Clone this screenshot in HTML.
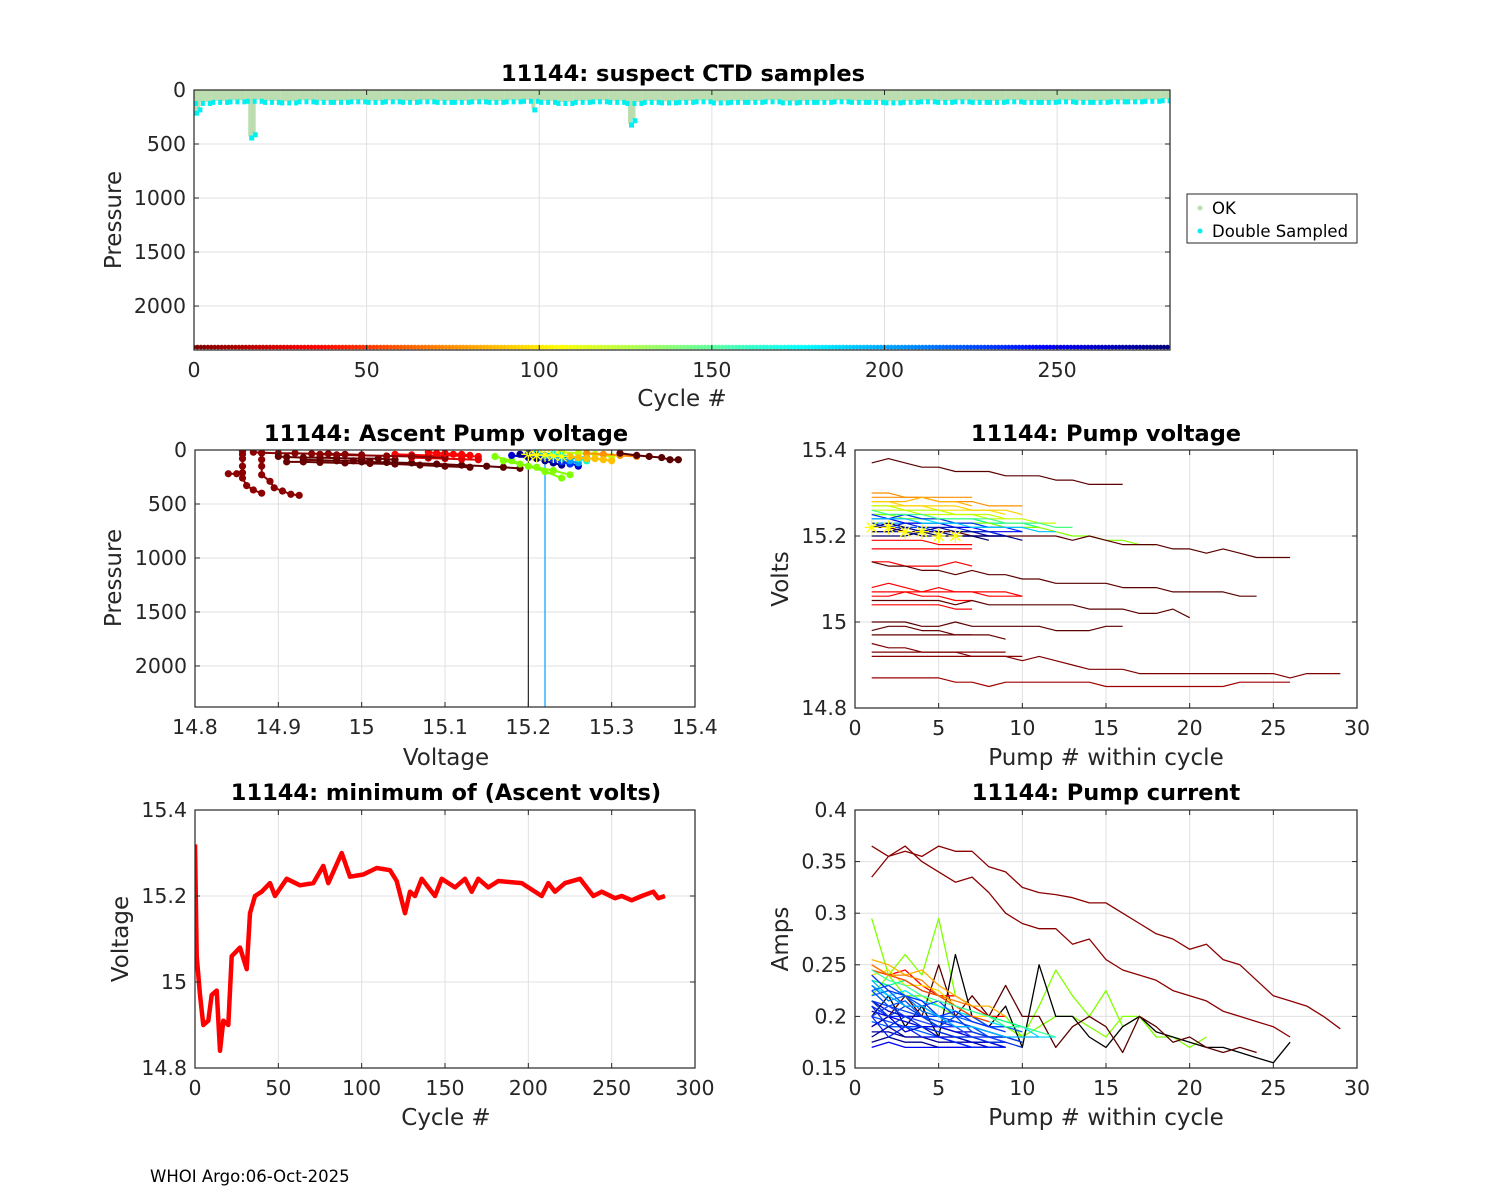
<!DOCTYPE html>
<html><head><meta charset="utf-8"><style>
body{margin:0;background:#fff}
svg{display:block;font-family:"DejaVu Sans","Liberation Sans",sans-serif}
</style></head><body>
<svg id="chart" width="1500" height="1200" viewBox="0 0 1500 1200" xmlns="http://www.w3.org/2000/svg">
<rect width="1500" height="1200" fill="#fff"/>
<text x="150" y="1182" font-size="16.5" fill="#000">WHOI Argo:06-Oct-2025</text>
</svg>
<script>
// ---------- DATA ----------
const bandCycles=[0,5,10,15,20,25,30,35,40,45,50,55,60,65,70,75,80,85,90,95,100,105,110,115,120,125,130,135,140,145,150,155,160,165,170,175,180,185,190,195,200,205,210,215,220,225,230,235,240,245,250,255,260,265,270,275,280];
const bandDepth=[110,100,95,90,100,105,95,100,100,95,100,95,100,95,100,100,95,100,95,90,100,110,100,95,100,110,100,105,100,95,105,100,100,95,105,100,100,95,100,100,105,100,95,100,95,100,100,95,100,100,95,100,100,95,95,90,85];
const spikeCycles=[0,1,16,17,98,126,127];
const spikeDepth=[200,170,430,400,170,310,270];
const cycleCount=283;
const profV=[
 [14.857,14.857,14.857,14.857,14.857,14.857,14.862,14.87,14.88],
 [14.84,14.85],
 [14.88,14.88,14.88,14.88,14.89,14.895,14.905,14.915,14.925],
 [14.87,14.88,14.9,14.92,14.94,14.96,14.98,15.0],
 [14.9,14.91,14.93,14.95,14.97,15.0,15.02,15.04],
 [14.91,14.93,14.95,14.98,15.01,15.04,15.07,15.1,15.13],
 [15.0,15.03,15.06,15.09,15.12,15.15,15.17,15.19],
 [15.04,15.06,15.08,15.1,15.12,15.14],
 [15.06,15.08,15.1,15.12,15.14],
 [15.16,15.18,15.2,15.22,15.24],
 [15.18,15.2,15.22,15.24,15.25,15.26],
 [15.2,15.22,15.24,15.26],
 [15.21,15.23,15.25,15.27],
 [15.24,15.26,15.28,15.3],
 [15.27,15.29,15.31,15.33],
 [15.31,15.33,15.345,15.36,15.37,15.38],
 [15.19,15.2,15.21,15.22,15.23,15.24],
 [15.2,15.21,15.22,15.23,15.24,15.25],
 [15.22,15.23,15.24,15.25,15.26],
 [15.23,15.24,15.25,15.26,15.27],
 [15.17,15.19,15.21,15.23,15.25],
 [14.95,14.97,15.0,15.03,15.06,15.08,15.1],
 [14.93,14.95,14.97,14.99,15.01],
 [15.08,15.09,15.1,15.11,15.12,15.13],
 [15.25,15.26,15.27,15.28,15.29,15.3]];
const profP=[
 [10,40,80,150,210,260,330,370,400],
 [220,220],
 [30,90,150,230,290,350,380,410,420],
 [20,25,30,30,35,35,40,45],
 [60,65,70,70,75,80,80,90],
 [110,110,115,120,125,130,140,150,160],
 [110,115,120,130,140,150,160,170],
 [40,45,50,50,55,60],
 [70,75,80,85,90],
 [60,100,150,200,260],
 [50,70,80,100,120,150],
 [40,50,60,80],
 [30,40,60,70],
 [20,30,40,60],
 [30,40,50,60],
 [30,50,60,70,90,90],
 [40,60,80,100,120,140],
 [30,50,70,90,110,130],
 [50,60,80,100,120],
 [40,50,60,80,100],
 [100,130,160,190,230],
 [40,45,50,55,60,65,70],
 [90,95,100,100,105],
 [20,30,30,40,40,50],
 [60,70,80,80,90,100]];
const profColor=['#8b0000','#8b0000','#8b0000','#8b0000','#660000','#660000','#5a0000','#ff0000','#e00000','#80ff00','#0000cc','#0040ff','#00d0ff','#c0ff00','#ff9000','#5a0000','#00008b','#0030ff','#00a0ff','#00ffc0','#80ff00','#8b0000','#660000','#ff0000','#ffc000'];
const starV=[15.2,15.21,15.22,15.23,15.24];
const starP=[40,50,45,55,60];
const voltLines=[
 [15.37,15.38,15.37,15.36,15.36,15.35,15.35,15.35,15.34,15.34,15.34,15.33,15.33,15.32,15.32,15.32],
 [15.3,15.3,15.29,15.29,15.28,15.28,15.28,15.27,15.27,15.27],
 [15.29,15.29,15.29,15.29,15.29,15.29,15.29],
 [15.28,15.28,15.28,15.29,15.28,15.28,15.27],
 [15.27,15.27,15.27,15.27,15.26,15.26,15.26,15.26,15.25],
 [15.26,15.26,15.26,15.25,15.25,15.25,15.25,15.24,15.24,15.24,15.23,15.23],
 [15.25,15.25,15.25,15.24,15.24,15.24,15.24,15.23,15.23,15.23,15.22],
 [15.24,15.24,15.24,15.24,15.23,15.23,15.23,15.22,15.22],
 [15.23,15.23,15.23,15.23,15.23,15.22,15.22,15.22,15.22],
 [15.22,15.22,15.22,15.22,15.21,15.21,15.21,15.21,15.2],
 [15.21,15.21,15.21,15.2,15.2,15.2,15.2,15.2,15.2],
 [15.25,15.25,15.24,15.24,15.24,15.23,15.23,15.23,15.22,15.22,15.22,15.21,15.2,15.2,15.19,15.19,15.18,15.18],
 [15.22,15.22,15.21,15.21,15.21,15.21,15.2,15.2,15.2,15.2,15.2,15.2,15.19,15.2,15.19,15.18,15.18,15.18,15.17,15.17,15.16,15.17,15.16,15.15,15.15,15.15],
 [15.19,15.19,15.19,15.19,15.18,15.18,15.18],
 [15.17,15.17,15.17,15.17,15.17,15.17,15.17],
 [15.14,15.14,15.13,15.13,15.13,15.14,15.13],
 [15.14,15.13,15.13,15.12,15.12,15.11,15.12,15.11,15.11,15.1,15.1,15.09,15.09,15.09,15.09,15.08,15.08,15.08,15.07,15.07,15.07,15.07,15.06,15.06],
 [15.08,15.09,15.08,15.07,15.08,15.07,15.07,15.06,15.06,15.06],
 [15.07,15.07,15.07,15.07,15.07,15.07,15.07,15.07,15.07,15.06],
 [15.06,15.06,15.07,15.06,15.06,15.05,15.05],
 [15.05,15.05,15.05,15.05,15.05,15.04,15.05,15.04,15.04,15.04,15.04,15.04,15.04,15.03,15.03,15.03,15.02,15.02,15.03,15.01],
 [15.04,15.04,15.04,15.04,15.04,15.03,15.03],
 [15.0,15.0,15.0,14.99,14.99,15.0,14.99,14.99,14.99,14.99,14.99,14.98,14.98,14.98,14.99,14.99],
 [14.98,14.99,14.99,14.98,14.98,14.97,14.97,14.97,14.96],
 [14.97,14.97,14.97,14.97,14.97,14.97,14.97],
 [14.93,14.93,14.93,14.93,14.93,14.93,14.93,14.93,14.93],
 [14.95,14.94,14.94,14.93,14.93,14.93,14.92,14.92,14.92,14.91,14.92,14.91,14.9,14.89,14.89,14.89,14.88,14.88,14.88,14.88,14.88,14.88,14.88,14.88,14.88,14.87,14.88,14.88,14.88],
 [14.92,14.92,14.92,14.92,14.92,14.92,14.92,14.92,14.92,14.92],
 [14.87,14.87,14.87,14.87,14.87,14.86,14.86,14.85,14.86,14.86,14.86,14.86,14.86,14.86,14.85,14.85,14.85,14.85,14.85,14.85,14.85,14.85,14.86,14.86,14.86,14.86],
 [15.25,15.24,15.25,15.24,15.24,15.23,15.23,15.22,15.22,15.21],
 [15.24,15.24,15.23,15.23,15.23,15.22,15.22,15.21,15.21,15.21],
 [15.23,15.22,15.23,15.22,15.22,15.22,15.21,15.21,15.2],
 [15.22,15.23,15.22,15.21,15.22,15.21,15.21,15.2,15.2],
 [15.21,15.21,15.22,15.21,15.21,15.2,15.2,15.2,15.2,15.19],
 [15.2,15.2,15.2,15.21,15.2,15.2,15.2,15.19],
 [15.24,15.24,15.24,15.23,15.23,15.23,15.22,15.22,15.22,15.22,15.21,15.21],
 [15.26,15.25,15.25,15.25,15.24,15.24,15.24,15.24,15.23,15.23,15.23,15.22,15.22],
 [15.27,15.27,15.26,15.26,15.26,15.25,15.25,15.25,15.24],
 [15.28,15.28,15.27,15.27,15.27,15.27,15.26,15.26,15.26,15.25]];
const voltColor=['#5a0000','#ff9000','#ff9000','#ffb000','#ffe000','#c0ff00','#00ff80','#00e0ff','#00a0ff','#0040ff','#00008b','#80ff00','#5a0000','#ff0000','#ff0000','#ff0000','#5a0000','#ff0000','#ff0000','#ff0000','#5a0000','#ff0000','#5a0000','#660000','#660000','#800000','#800000','#8b0000','#a00000','#0030ff','#0000ee','#0020cc','#00008b','#000080','#000060','#00c0ff','#40ff80','#c0ff00','#ffd000'];
const voltStarX=[1,2,3,4,5,6];
const voltStarY=[15.22,15.22,15.21,15.21,15.2,15.2];
const minCycle=[0,1,3,5,8,10,13,15,17,20,22,27,31,33,36,40,45,48,55,63,71,77,80,88,93,101,109,117,121,126,129,132,136,144,148,156,162,166,170,176,182,196,208,212,216,222,231,239,244,252,256,262,268,275,278,282];
const minVolt=[15.32,15.06,14.97,14.9,14.91,14.97,14.98,14.84,14.91,14.9,15.06,15.08,15.03,15.16,15.2,15.21,15.23,15.2,15.24,15.225,15.23,15.27,15.23,15.3,15.245,15.25,15.265,15.26,15.235,15.16,15.21,15.2,15.24,15.2,15.24,15.22,15.24,15.21,15.24,15.22,15.235,15.23,15.2,15.23,15.21,15.23,15.24,15.2,15.21,15.195,15.2,15.19,15.2,15.21,15.195,15.2];
const ampLines=[
 [0.365,0.355,0.36,0.355,0.365,0.36,0.36,0.345,0.34,0.325,0.32,0.318,0.315,0.31,0.31,0.3,0.29,0.28,0.275,0.265,0.27,0.255,0.25,0.235,0.22,0.215,0.21,0.2,0.188],
 [0.335,0.355,0.365,0.35,0.34,0.33,0.335,0.32,0.3,0.29,0.285,0.285,0.27,0.275,0.255,0.245,0.24,0.235,0.225,0.22,0.215,0.205,0.2,0.195,0.19,0.18],
 [0.22,0.24,0.26,0.24,0.295,0.22,0.21,0.2,0.2,0.18,0.21,0.245,0.22,0.2,0.225,0.19,0.2,0.18,0.18,0.17,0.18],
 [0.295,0.24,0.22,0.22,0.21,0.2,0.2,0.19,0.19,0.18,0.19,0.2,0.2,0.19,0.18,0.2,0.2,0.18],
 [0.2,0.22,0.19,0.21,0.18,0.26,0.2,0.19,0.21,0.17,0.25,0.2,0.2,0.18,0.17,0.19,0.2,0.185,0.18,0.175,0.17,0.17,0.165,0.16,0.155,0.175],
 [0.19,0.2,0.22,0.2,0.25,0.2,0.22,0.2,0.23,0.2,0.2,0.17,0.19,0.2,0.19,0.165,0.2,0.19,0.175,0.18,0.17,0.165,0.17,0.165],
 [0.25,0.24,0.245,0.23,0.22,0.22,0.21,0.2,0.2],
 [0.255,0.25,0.24,0.245,0.23,0.22,0.21,0.21,0.2],
 [0.24,0.245,0.23,0.23,0.225,0.21,0.2,0.2,0.19],
 [0.235,0.23,0.235,0.225,0.22,0.21,0.205,0.2,0.195,0.19,0.185],
 [0.23,0.22,0.225,0.215,0.21,0.205,0.2,0.195,0.19,0.19,0.18,0.18],
 [0.22,0.225,0.21,0.21,0.2,0.2,0.195,0.19,0.19,0.185],
 [0.215,0.21,0.205,0.2,0.2,0.195,0.19,0.185,0.18],
 [0.21,0.2,0.2,0.2,0.195,0.19,0.19,0.18,0.18],
 [0.205,0.2,0.195,0.19,0.19,0.185,0.18,0.18,0.175],
 [0.2,0.195,0.19,0.19,0.185,0.18,0.18,0.175,0.175],
 [0.195,0.19,0.19,0.185,0.18,0.18,0.175,0.175,0.17],
 [0.185,0.185,0.18,0.18,0.18,0.175,0.175,0.17,0.17],
 [0.175,0.18,0.175,0.175,0.17,0.17,0.17,0.17,0.17],
 [0.17,0.175,0.17,0.17,0.17,0.17,0.17,0.17,0.17],
 [0.225,0.23,0.22,0.21,0.215,0.2,0.2,0.19,0.19],
 [0.24,0.225,0.22,0.215,0.2,0.205,0.195,0.19,0.185],
 [0.245,0.24,0.235,0.225,0.22,0.21,0.2,0.195],
 [0.25,0.24,0.24,0.235,0.22,0.215,0.21],
 [0.215,0.205,0.2,0.2,0.19,0.185,0.185,0.18,0.18,0.175],
 [0.2,0.21,0.2,0.195,0.19,0.19,0.18,0.18,0.175],
 [0.23,0.215,0.22,0.205,0.2,0.19,0.19,0.185,0.18],
 [0.19,0.2,0.185,0.19,0.18,0.18,0.175,0.175,0.17],
 [0.21,0.19,0.2,0.19,0.185,0.18,0.18,0.175,0.175,0.17],
 [0.225,0.21,0.215,0.2,0.195,0.195,0.19,0.18,0.18],
 [0.18,0.19,0.18,0.18,0.175,0.175,0.17,0.17,0.17],
 [0.2,0.18,0.19,0.18,0.18,0.175,0.17,0.17,0.17],
 [0.215,0.2,0.21,0.2,0.19,0.2,0.185,0.18,0.18,0.175],
 [0.235,0.22,0.21,0.21,0.2,0.19,0.19,0.185,0.18,0.18,0.18],
 [0.245,0.235,0.23,0.22,0.215,0.21,0.205,0.2,0.19,0.19,0.185,0.18]];
const ampColor=['#8b0000','#8b0000','#80ff00','#80ff00','#000000','#5a0000','#ff0000','#ffb000','#ffe000','#00ff80','#00e0ff','#0060ff','#0040ff','#0020ff','#0000dd','#0040ff','#0060ff','#0000aa','#00008b','#0000ff','#0050ff','#0030ff','#ff4000','#ff8000','#0000cc','#2040ff','#0070ff','#0000c0','#0030e0','#0050ff','#000090','#0020ff','#0040e0','#00b0ff','#40ffa0'];

// ---------- DRAWING ----------
const NS='http://www.w3.org/2000/svg';
const svg=document.getElementById('chart');
function mk(tag,attrs,parent){const e=document.createElementNS(NS,tag);for(const k in attrs)e.setAttribute(k,attrs[k]);(parent||svg).appendChild(e);return e;}
function jet(t){const r=Math.max(0,Math.min(1,1.5-Math.abs(4*t-3))),g=Math.max(0,Math.min(1,1.5-Math.abs(4*t-2))),b=Math.max(0,Math.min(1,1.5-Math.abs(4*t-1)));return `rgb(${Math.round(r*255)},${Math.round(g*255)},${Math.round(b*255)})`;}
let clipId=0;
function axes(name,L,T,R,B,xd,yd,xt,yt,yrev,xfmt,yfmt){
  const sx=v=>L+(v-xd[0])/(xd[1]-xd[0])*(R-L);
  const sy=yrev?v=>T+(v-yd[0])/(yd[1]-yd[0])*(B-T):v=>B-(v-yd[0])/(yd[1]-yd[0])*(B-T);
  const g=mk('g',{});
  
  
  mk('rect',{x:L,y:T,width:R-L,height:B-T,fill:'#fff'},g);
  const grid=mk('g',{stroke:'#e0e0e0','stroke-width':1},g);
  
  
  xt.forEach(v=>{const x=sx(v);mk('line',{x1:x,x2:x,y1:T,y2:B},grid);});
  yt.forEach(v=>{const y=sy(v);mk('line',{x1:L,x2:R,y1:y,y2:y},grid);});
  const cid='clip'+(clipId++);
  const cp=mk('clipPath',{id:cid},g);mk('rect',{x:L,y:T,width:R-L,height:B-T},cp);
  const data=mk('g',{'clip-path':`url(#${cid})`},g);
  
  
  const over=mk('g',{},g);
  function finish(){
    const tk=mk('g',{stroke:'#262626','stroke-width':1},over);
    
    
    xt.forEach(v=>{const x=sx(v);mk('line',{x1:x,x2:x,y1:B,y2:B-5},tk);mk('line',{x1:x,x2:x,y1:T,y2:T+5},tk);});
    yt.forEach(v=>{const y=sy(v);mk('line',{x1:L,x2:L+5,y1:y,y2:y},tk);mk('line',{x1:R,x2:R-5,y1:y,y2:y},tk);});
    const box=mk('rect',{x:L,y:T,width:R-L,height:B-T,fill:'none',stroke:'#262626','stroke-width':1.2},over);
    
    
    xt.forEach(v=>{const t=mk('text',{x:sx(v),y:B+27,'font-size':20.5,'text-anchor':'middle',fill:'#262626'},over);t.textContent=xfmt?xfmt(v):v;
      
      });
    yt.forEach(v=>{const t=mk('text',{x:L-8,y:sy(v)+7,'font-size':20.5,'text-anchor':'end',fill:'#262626'},over);t.textContent=yfmt?yfmt(v):v;
      
      });
  }
  return {sx,sy,data,finish,L,T,R,B};
}
function label(txt,x,y,size,bold,rot,name){
  const t=mk('text',{x:x,y:y,'font-size':size,'text-anchor':'middle',fill:bold?'#000':'#262626','font-weight':bold?'bold':'normal'});
  if(rot)t.setAttribute('transform',`rotate(-90 ${x} ${y})`);
  t.textContent=txt;
  
  
}
function polyline(ax,xs,ys,color,w,name){
  const pts=xs.map((x,i)=>ax.sx(x).toFixed(1)+','+ax.sy(ys[i]).toFixed(1)).join(' ');
  const p=mk('polyline',{points:pts,fill:'none',stroke:color,'stroke-width':w,'stroke-linejoin':'round'},ax.data);
  
  
  return p;
}
function star(ax,x,y,color,name){
  const cx=ax.sx(x),cy=ax.sy(y),r=7;
  const s=mk('path',{d:`M${cx-r},${cy}H${cx+r}M${cx},${cy-r}V${cy+r}M${cx-5},${cy-5}L${cx+5},${cy+5}M${cx-5},${cy+5}L${cx+5},${cy-5}`,stroke:color,'stroke-width':1.3},ax.data);
  
  
}

// Panel 1
const a1=axes('ctd-samples-axes',194,90,1170,350,[0,282.7],[0,2407],[0,50,100,150,200,250],[0,500,1000,1500,2000],true);
bandCycles.forEach((c,i)=>{
  const r=mk('rect',{x:a1.sx(c),y:a1.sy(0),width:a1.sx(c+5)-a1.sx(c),height:a1.sy(bandDepth[i])-a1.sy(0),fill:'#bbddb0'},a1.data);
  
  
});
spikeCycles.forEach((c,i)=>{
  const r=mk('rect',{x:a1.sx(c)-1,y:a1.sy(0),width:4,height:a1.sy(spikeDepth[i])-a1.sy(0),fill:'#bbddb0'},a1.data);
  
  
});
bandCycles.forEach((c,i)=>{
  for(let k=0;k<5;k+=2){
    const d=mk('rect',{x:a1.sx(c+k),y:a1.sy(bandDepth[i]+10)-2,width:4,height:5,fill:'#00f0f0'},a1.data);
    
    
  }
});
spikeCycles.forEach((c,i)=>{
  const d=mk('rect',{x:a1.sx(c),y:a1.sy(spikeDepth[i]+10)-2,width:5,height:5,fill:'#00f0f0'},a1.data);
  
  
});
for(let c=0;c<cycleCount;c++){
  const d=mk('circle',{cx:a1.sx(c),cy:a1.sy(2380),r:2.3,fill:jet(1-c/(cycleCount-1))},a1.data);
  
  
}
a1.finish();
label('11144: suspect CTD samples',683,81,22.5,true,false,'ctd-title');
label('Cycle #',682,406,23,false,false,'ctd-x-axis-title');
label('Pressure',121,220,23,false,true,'ctd-y-axis-title');
const lg=mk('g',{});


mk('rect',{x:1187,y:194,width:170,height:49,fill:'#fff',stroke:'#262626','stroke-width':1},lg);
mk('circle',{cx:1200,cy:208,r:2.5,fill:'#bbddb0'},lg);
mk('circle',{cx:1200,cy:231,r:2.5,fill:'#00f0f0'},lg);
const l1=mk('text',{x:1212,y:214,'font-size':16.5,fill:'#000'},lg);l1.textContent='OK';


const l2=mk('text',{x:1212,y:237,'font-size':16.5,fill:'#000'},lg);l2.textContent='Double Sampled';



// Panel 2
const a2=axes('ascent-pump-voltage-axes',195,450,695,707,[14.8,15.4],[0,2380],[14.8,14.9,15,15.1,15.2,15.3,15.4],[0,500,1000,1500,2000],true,v=>v===15?'15':v.toFixed(1));
polyline(a2,[15.2,15.2],[60,2380],'#000000',1,'deep-profile-line-black');
polyline(a2,[15.22,15.22],[60,2380],'#00a0ff',1.2,'deep-profile-line-blue');
profV.forEach((vs,i)=>{
  polyline(a2,vs,profP[i],profColor[i],2,'ascent-profile-line');
  vs.forEach((v,j)=>{
    const d=mk('circle',{cx:a2.sx(v),cy:a2.sy(profP[i][j]),r:3.6,fill:profColor[i]},a2.data);
    
    
  });
});
starV.forEach((v,i)=>star(a2,v,starP[i],'#ffff00','ascent-star-marker'));
a2.finish();
label('11144: Ascent Pump voltage',446,441,22.5,true,false,'ascent-title');
label('Voltage',446,765,23,false,false,'ascent-x-axis-title');
label('Pressure',121,578,23,false,true,'ascent-y-axis-title');

// Panel 3
const a3=axes('pump-voltage-axes',855,450,1357,708,[0,30],[14.8,15.4],[0,5,10,15,20,25,30],[14.8,15,15.2,15.4],false,null,v=>v===15?'15':v.toFixed(1));
voltLines.forEach((ys,i)=>polyline(a3,ys.map((_,j)=>j+1),ys,voltColor[i],1.2,'pump-voltage-line'));
voltStarX.forEach((x,i)=>star(a3,x,voltStarY[i],'#ffff00','pump-voltage-star'));
a3.finish();
label('11144: Pump voltage',1106,441,22.5,true,false,'pump-voltage-title');
label('Pump # within cycle',1106,765,23,false,false,'pump-voltage-x-axis-title');
label('Volts',788,579,23,false,true,'pump-voltage-y-axis-title');

// Panel 4
const a4=axes('min-ascent-volts-axes',195,810,695,1068,[0,300],[14.8,15.4],[0,50,100,150,200,250,300],[14.8,15,15.2,15.4],false,null,v=>v===15?'15':v.toFixed(1));
polyline(a4,minCycle,minVolt,'#ff0000',4.5,'min-volts-line');
a4.finish();
label('11144: minimum of (Ascent volts)',446,800,22.5,true,false,'min-volts-title');
label('Cycle #',446,1125,23,false,false,'min-volts-x-axis-title');
label('Voltage',128,939,23,false,true,'min-volts-y-axis-title');

// Panel 5
const a5=axes('pump-current-axes',855,810,1357,1068,[0,30],[0.15,0.4],[0,5,10,15,20,25,30],[0.15,0.2,0.25,0.3,0.35,0.4],false,null,v=>String(+v.toFixed(2)));
ampLines.forEach((ys,i)=>polyline(a5,ys.map((_,j)=>j+1),ys,ampColor[i],1.3,'pump-current-line'));
a5.finish();
label('11144: Pump current',1106,800,22.5,true,false,'pump-current-title');
label('Pump # within cycle',1106,1125,23,false,false,'pump-current-x-axis-title');
label('Amps',788,939,23,false,true,'pump-current-y-axis-title');
</script>
</body></html>
